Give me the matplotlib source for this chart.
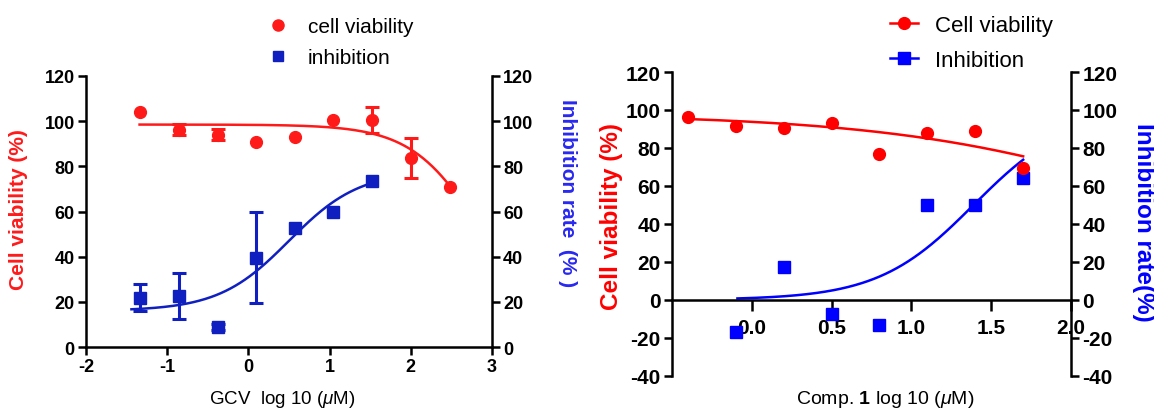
import numpy as np
import matplotlib
matplotlib.use("Agg")
import matplotlib.pyplot as plt
from matplotlib.lines import Line2D

plt.rcParams['font.family'] = ['Liberation Sans', 'DejaVu Sans']
plt.rcParams['mathtext.fontset'] = 'custom'
plt.rcParams['mathtext.rm'] = 'Liberation Sans'
plt.rcParams['mathtext.it'] = 'Liberation Sans:italic'
plt.rcParams['mathtext.bf'] = 'Liberation Sans:bold'
plt.rcParams['axes.unicode_minus'] = False

# ---- left panel: GCV ----
gcv_x = [-1.34, -0.86, -0.38, 0.10, 0.57, 1.04, 1.52, 2.00, 2.48]
gcv_via = [104.0, 96.3, 94.0, 90.8, 92.9, 100.4, 100.4, 83.7, 70.7]
gcv_via_err = [0, 2.5, 2.5, 0, 0, 0, 5.8, 8.7, 0]
gcv_inh_x = [-1.34, -0.86, -0.38, 0.10, 0.57, 1.04, 1.52]
gcv_inh = [21.9, 22.7, 8.9, 39.6, 52.6, 60.0, 73.3]
gcv_inh_err = [6.0, 10.2, 1.5, 20.3, 0, 0, 0]
# fitted curves: bottom, top, logEC50, hill
gcv_via_fit = (0, 98.5, 2.9, -1.0)
gcv_inh_fit = (16, 78, 0.5, 1.0)
gcv_via_range = (-1.34, 2.48)
gcv_inh_range = (-1.44, 1.52)

# ---- right panel: compound 1 ----
comp_x = [-0.4, -0.1, 0.2, 0.5, 0.8, 1.1, 1.4, 1.7]
comp_via = [96.3, 91.8, 90.6, 93.2, 76.9, 87.9, 88.8, 69.6]
comp_inh_x = [-0.1, 0.2, 0.5, 0.8, 1.1, 1.4, 1.7]
comp_inh = [-17.0, 17.1, -7.3, -13.5, 49.8, 49.8, 64.3]
comp_via_fit = (0, 98, 2.8, -0.48)
comp_inh_fit = (0, 100, 1.39, 1.45)
comp_via_range = (-0.4, 1.7)
comp_inh_range = (-0.09, 1.7)

NARROW = ['Liberation Sans Narrow', 'Liberation Sans', 'DejaVu Sans']


def logistic(x, p):
    bottom, top, ec50, hill = p
    return bottom + (top - bottom) / (1 + 10 ** ((ec50 - x) * hill))


def fit_line(ax, rng, p, color, lw):
    xx = np.linspace(rng[0], rng[1], 200)
    ax.plot(xx, logistic(xx, p), color=color, lw=lw, zorder=2)


def err_points(ax, x, y, err, color, marker, ms):
    x = np.array(x); y = np.array(y); err = np.array(err)
    m = err > 0
    if m.any():
        ax.errorbar(x[m], y[m], yerr=err[m], fmt='none', ecolor=color,
                    elinewidth=2.2, capsize=5, capthick=2.2, zorder=3)
    ax.plot(x, y, marker, color=color, ms=ms, ls='none', zorder=4)


RED1 = '#ff1a1a'
BLUE1 = '#1020c0'
RED2 = '#ff0000'
BLUE2 = '#0000ff'

fig = plt.figure(figsize=(11.54, 4.10), dpi=100)

# ================= left panel =================
ax1 = fig.add_axes([0.0745, 0.1512, 0.3518, 0.661])
fit_line(ax1, gcv_via_range, gcv_via_fit, RED1, 1.8)
fit_line(ax1, gcv_inh_range, gcv_inh_fit, BLUE1, 1.8)
err_points(ax1, gcv_x, gcv_via, gcv_via_err, RED1, 'o', 8.5)
err_points(ax1, gcv_inh_x, gcv_inh, gcv_inh_err, BLUE1, 's', 8.5)
ax1.set_xlim(-2, 3)
ax1.set_ylim(0, 120)
ax1.set_xticks(range(-2, 4))
ax1.set_yticks(range(0, 121, 20))
ax1.spines['top'].set_visible(False)
ax1.spines['right'].set_visible(False)
for s in ['left', 'bottom']:
    ax1.spines[s].set_linewidth(1.8)
ax1.tick_params(width=1.8, length=6, labelsize=13, pad=2)
for lab in ax1.get_xticklabels() + ax1.get_yticklabels():
    lab.set_fontweight('bold')

ax1r = ax1.twinx()
ax1r.set_ylim(0, 120)
ax1r.set_yticks(range(0, 121, 20))
for s in ['top', 'left', 'bottom']:
    ax1r.spines[s].set_visible(False)
ax1r.spines['right'].set_linewidth(1.8)
ax1r.tick_params(width=1.8, length=6, labelsize=13, pad=2)
for lab in ax1r.get_yticklabels():
    lab.set_fontweight('bold')

fig.text(0.0156, 0.490, 'Cell viability (%)', rotation=90, color=RED1,
         fontsize=15, fontweight='bold', ha='center', va='center')
fig.text(0.4922, 0.529, 'Inhibition rate  (% )', rotation=270, color='#2828f0',
         fontsize=15, fontweight='bold', ha='center', va='center')
fig.text(0.245, 0.0244, 'GCV  log 10 ($\\mu$M)', fontsize=13.5,
         ha='center', va='center')

h1 = [Line2D([], [], marker='o', color=RED1, ls='none', ms=8),
      Line2D([], [], marker='s', color=BLUE1, ls='none', ms=7.5)]
fig.legend(h1, ['cell viability', 'inhibition'], loc='center left',
           bbox_to_anchor=(0.2319, 0.895), frameon=False, fontsize=15,
           handlelength=1.0, handletextpad=0.94, labelspacing=0.6,
           borderpad=0, borderaxespad=0)

# ================= right panel =================
ax2 = fig.add_axes([0.5823, 0.0812, 0.3458, 0.7407])
fit_line(ax2, comp_via_range, comp_via_fit, RED2, 1.8)
fit_line(ax2, comp_inh_range, comp_inh_fit, BLUE2, 1.8)
ax2.plot(comp_x, comp_via, 'o', color=RED2, ms=8.5, ls='none', zorder=4)
ax2.plot(comp_inh_x, comp_inh, 's', color=BLUE2, ms=8, ls='none', zorder=3)
ax2.set_xlim(-0.5, 2.0)
ax2.set_ylim(-40, 120)
ax2.set_xticks([0, 0.5, 1.0, 1.5, 2.0])
ax2.set_xticklabels(['0.0', '0.5', '1.0', '1.5', '2.0'])
ax2.set_yticks(range(-40, 121, 20))
ax2.spines['top'].set_visible(False)
ax2.spines['right'].set_visible(False)
ax2.spines['bottom'].set_position(('data', 0))
for s in ['left', 'bottom']:
    ax2.spines[s].set_linewidth(1.8)
ax2.tick_params(width=1.8, length=6, labelsize=15, pad=2)
ax2.tick_params(axis='x', length=8, pad=5)

ax2r = ax2.twinx()
ax2r.set_ylim(-40, 120)
ax2r.set_yticks(range(-40, 121, 20))
for s in ['top', 'left', 'bottom']:
    ax2r.spines[s].set_visible(False)
ax2r.spines['right'].set_linewidth(1.8)
ax2r.tick_params(width=1.8, length=6, labelsize=15, pad=2)
for lab in ax2.get_xticklabels() + ax2.get_yticklabels() + ax2r.get_yticklabels():
    lab.set_family(NARROW)
    lab.set_fontweight('bold')

fig.text(0.530, 0.472, 'Cell viability (%)', rotation=90, color=RED2,
         fontsize=17.5, fontweight='bold', ha='center', va='center')
fig.text(0.9905, 0.4573, 'Inhibition rate(%)', rotation=270, color=BLUE2,
         fontsize=17.5, fontweight='bold', ha='center', va='center')
fig.text(0.7673, 0.0244, 'Comp. $\\mathbf{1}$ log 10 ($\\mu$M)', fontsize=14,
         ha='center', va='center')

h2 = [Line2D([], [], marker='o', color=RED2, lw=1.8, ms=8.5),
      Line2D([], [], marker='s', color=BLUE2, lw=1.8, ms=8)]
fig.legend(h2, ['Cell viability', 'Inhibition'], loc='center left',
           bbox_to_anchor=(0.7712, 0.893), frameon=False, fontsize=16,
           handlelength=1.26, handletextpad=0.77, labelspacing=0.6,
           borderpad=0, borderaxespad=0)

fig.savefig('out.png', dpi=100)
